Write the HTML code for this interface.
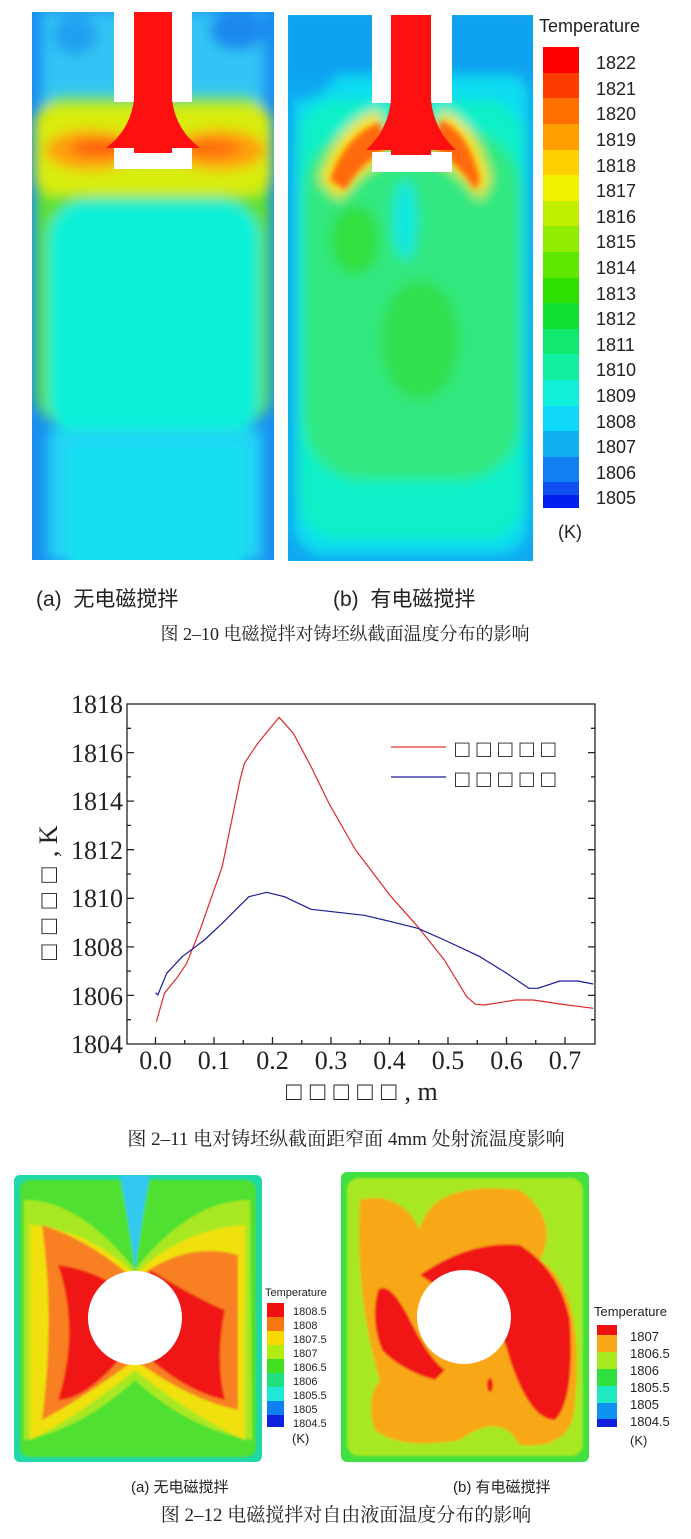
<!DOCTYPE html>
<html><head><meta charset="utf-8"><style>
html,body{margin:0;padding:0;background:#fff;}
body{width:691px;height:1539px;overflow:hidden;position:relative;}
svg{position:absolute;left:0;top:0;}
</style></head><body>
<svg width="691" height="1539" viewBox="0 0 691 1539" xmlns="http://www.w3.org/2000/svg">
<defs>
<filter id="b6" x="-20%" y="-20%" width="140%" height="140%"><feGaussianBlur stdDeviation="6"/></filter>
<filter id="b3" x="-20%" y="-20%" width="140%" height="140%"><feGaussianBlur stdDeviation="3"/></filter>
<filter id="b1"><feGaussianBlur stdDeviation="1"/></filter>
<clipPath id="ca"><rect x="32" y="12" width="242" height="548"/></clipPath>
<clipPath id="cb"><rect x="288" y="15" width="245" height="546"/></clipPath>
<clipPath id="cc"><rect x="14" y="1175" width="248" height="287" rx="6"/></clipPath>
<clipPath id="cd"><rect x="341" y="1172" width="248" height="290" rx="6"/></clipPath>
</defs>

<!-- Panel a top -->
<g clip-path="url(#ca)">
 <rect x="32" y="12" width="242" height="548" fill="#1a8ff0"/>
 <g filter="url(#b6)">
  <rect x="42" y="12" width="222" height="110" fill="#30c4f4"/>
  <ellipse cx="75" cy="35" rx="22" ry="20" fill="#20a0f0"/>
  <ellipse cx="238" cy="30" rx="28" ry="20" fill="#1a88ee"/>
  <rect x="36" y="95" width="234" height="330" rx="30" fill="#60e030"/>
  <rect x="34" y="105" width="238" height="90" rx="20" fill="#d8ec10"/>
  <ellipse cx="90" cy="150" rx="45" ry="20" fill="#ffa010"/>
  <ellipse cx="220" cy="150" rx="45" ry="20" fill="#ffa010"/>
  <ellipse cx="100" cy="148" rx="30" ry="9" fill="#ff6010"/>
  <ellipse cx="210" cy="148" rx="30" ry="9" fill="#ff6a10"/>
  <rect x="48" y="200" width="212" height="240" rx="40" fill="#10f0d8"/>
  <rect x="48" y="430" width="214" height="130" fill="#20d4f4"/>
  <rect x="68" y="445" width="176" height="130" fill="#18e0f0"/>
 </g>
 <rect x="114" y="12" width="78" height="90" fill="#fff"/>
 <rect x="114" y="148" width="78" height="21" fill="#fff"/>
 <path d="M134 12 H172 V100 Q176 130 200 148 H172 V153 H134 V148 H106 Q130 130 134 100 Z" fill="#ff1010"/>
</g>

<!-- Panel b top -->
<g clip-path="url(#cb)">
 <rect x="288" y="15" width="245" height="546" fill="#10a8f0"/>
 <g filter="url(#b6)">
  <rect x="294" y="70" width="234" height="485" rx="30" fill="#10dcf0"/>
  <rect x="298" y="100" width="226" height="440" rx="40" fill="#10f0c8"/>
  <rect x="304" y="130" width="216" height="350" rx="60" fill="#30e880"/>
  <ellipse cx="355" cy="240" rx="25" ry="35" fill="#30e040"/>
  <ellipse cx="420" cy="340" rx="40" ry="60" fill="#30e050"/>
  <ellipse cx="300" cy="60" rx="40" ry="40" fill="#10a8f0"/>
  <rect x="290" y="15" width="240" height="60" fill="#10a0f0"/>
  <ellipse cx="405" cy="220" rx="12" ry="40" fill="#10e8e0"/>
  <path d="M320 180 Q340 120 380 110 L385 160 Q360 170 340 200 Z" fill="#ffe000"/>
  <path d="M490 180 Q475 120 440 110 L435 160 Q460 170 480 200 Z" fill="#ffe000"/>
 </g>
 <g filter="url(#b3)">
  <path d="M330 180 Q345 135 380 122 L385 150 Q360 165 345 190 Z" fill="#ff6a10"/>
  <path d="M480 180 Q468 130 440 120 L435 150 Q460 165 475 190 Z" fill="#ff6a10"/>
 </g>
 <rect x="372" y="15" width="80" height="88" fill="#fff"/>
 <rect x="372" y="152" width="80" height="20" fill="#fff"/>
 <path d="M391 15 H431 V100 Q434 130 456 150 H431 V155 H391 V150 H366 Q388 130 391 100 Z" fill="#ff1010"/>
</g>

<!-- colorbar top -->
<g>
 <rect x="543" y="47" width="36" height="26" fill="#ff0000"/>
 <rect x="543" y="73" width="36" height="26" fill="#ff3c00"/>
 <rect x="543" y="98" width="36" height="26" fill="#ff7000"/>
 <rect x="543" y="124" width="36" height="26" fill="#ffa000"/>
 <rect x="543" y="150" width="36" height="26" fill="#ffd000"/>
 <rect x="543" y="175" width="36" height="26" fill="#f0f000"/>
 <rect x="543" y="201" width="36" height="26" fill="#c0f000"/>
 <rect x="543" y="226" width="36" height="26" fill="#90ec00"/>
 <rect x="543" y="252" width="36" height="26" fill="#60e800"/>
 <rect x="543" y="278" width="36" height="26" fill="#30e000"/>
 <rect x="543" y="303" width="36" height="26" fill="#10e030"/>
 <rect x="543" y="329" width="36" height="26" fill="#10e870"/>
 <rect x="543" y="354" width="36" height="26" fill="#10f0a0"/>
 <rect x="543" y="380" width="36" height="26" fill="#10f0d8"/>
 <rect x="543" y="406" width="36" height="26" fill="#10d8f8"/>
 <rect x="543" y="431" width="36" height="26" fill="#10b0f0"/>
 <rect x="543" y="457" width="36" height="26" fill="#1080f0"/>
 <rect x="543" y="482" width="36" height="26" fill="#1050f0"/>
 <rect x="543" y="495" width="36" height="13" fill="#0020f0"/>
</g>
<g font-family="Liberation Sans, sans-serif" font-size="18" fill="#222">
 <text x="539" y="32">Temperature</text>
 <text x="596" y="69">1822</text><text x="596" y="95">1821</text><text x="596" y="120">1820</text>
 <text x="596" y="146">1819</text><text x="596" y="172">1818</text><text x="596" y="197">1817</text>
 <text x="596" y="223">1816</text><text x="596" y="248">1815</text><text x="596" y="274">1814</text>
 <text x="596" y="300">1813</text><text x="596" y="325">1812</text><text x="596" y="351">1811</text>
 <text x="596" y="376">1810</text><text x="596" y="402">1809</text><text x="596" y="428">1808</text>
 <text x="596" y="453">1807</text><text x="596" y="479">1806</text><text x="596" y="504">1805</text>
 <text x="558" y="538">(K)</text>
</g>
<g font-family="Liberation Sans, 'Noto Sans CJK SC', sans-serif" font-size="21" fill="#222">
 <text x="36" y="606">(a)&#160; 无电磁搅拌</text>
 <text x="333" y="606">(b)&#160; 有电磁搅拌</text>
</g>
<text x="345" y="640" text-anchor="middle" font-family="Liberation Serif, 'Noto Serif CJK SC', serif" font-size="18" fill="#222">图 2–10 电磁搅拌对铸坯纵截面温度分布的影响</text>

<!-- Chart -->
<g stroke="#222" stroke-width="1.3" fill="none">
 <rect x="127" y="704" width="468" height="340"/>
 <path d="M155.5 1044v-7M214 1044v-7M272.5 1044v-7M331 1044v-7M389.5 1044v-7M448 1044v-7M506.5 1044v-7M565 1044v-7
 M184.75 1044v-4M243.25 1044v-4M301.75 1044v-4M360.25 1044v-4M418.75 1044v-4M477.25 1044v-4M535.75 1044v-4
 M127 995.4h7M127 946.9h7M127 898.3h7M127 849.7h7M127 801.1h7M127 752.6h7
 M127 1019.7h4M127 971.1h4M127 922.6h4M127 874h4M127 825.4h4M127 776.9h4M127 728.3h4
 M595 995.4h-7M595 946.9h-7M595 898.3h-7M595 849.7h-7M595 801.1h-7M595 752.6h-7
 M595 1019.7h-4M595 971.1h-4M595 922.6h-4M595 874h-4M595 825.4h-4M595 776.9h-4M595 728.3h-4"/>
</g>
<g font-family="Liberation Serif, serif" font-size="26" fill="#222" text-anchor="end">
 <text x="123" y="713">1818</text><text x="123" y="762">1816</text><text x="123" y="810">1814</text>
 <text x="123" y="859">1812</text><text x="123" y="907">1810</text><text x="123" y="956">1808</text>
 <text x="123" y="1005">1806</text><text x="123" y="1053">1804</text>
</g>
<g font-family="Liberation Serif, serif" font-size="26" fill="#222" text-anchor="middle">
 <text x="155.5" y="1069">0.0</text><text x="214" y="1069">0.1</text><text x="272.5" y="1069">0.2</text>
 <text x="331" y="1069">0.3</text><text x="389.5" y="1069">0.4</text><text x="448" y="1069">0.5</text>
 <text x="506.5" y="1069">0.6</text><text x="565" y="1069">0.7</text>
</g>
<text x="286" y="1100" font-family="Liberation Serif, serif" font-size="26" fill="#222" letter-spacing="8">□□□□□<tspan letter-spacing="0">, m</tspan></text>
<text transform="translate(57,960) rotate(-90)" font-family="Liberation Serif, serif" font-size="26" fill="#222" letter-spacing="10">□□□□<tspan letter-spacing="0">, K</tspan></text>
<line x1="391" y1="747" x2="446" y2="747" stroke="#e03030" stroke-width="1.3"/>
<line x1="391" y1="777" x2="446" y2="777" stroke="#1a1a9a" stroke-width="1.3"/>
<g font-family="Liberation Serif, serif" font-size="24" fill="#222" letter-spacing="7">
 <text x="455" y="757">□□□□□</text><text x="455" y="787">□□□□□</text>
</g>
<polyline fill="none" stroke="#e02828" stroke-width="1.2" stroke-linejoin="round" points="156.4,1021.7 164.4,993.3 177.8,976.7 186.7,963.3 200,930 222.2,866.7 240,780 244.4,763.3 257.8,743.3 279.1,717.3 293.3,733.3 311.1,766.7 328.9,803.3 355.6,850 391.1,896.7 417.8,926.7 444.4,960 466.7,996.7 475.6,1004.3 484.4,1005 515.6,1000 533.3,1000 560,1004 593.3,1008.3"/>
<polyline fill="none" stroke="#1a1a9a" stroke-width="1.2" stroke-linejoin="round" points="155.6,992.7 157.8,995 166.7,973.3 182.2,956.7 204.4,940 222.2,923.3 248.9,896.7 266.7,892.3 284.4,896.7 311.1,909.3 337.8,912.3 364.4,915.3 391.1,921.7 417.8,928.3 444.4,940 480,956.7 506.7,973.3 528.9,988.3 537.8,988.3 560,981 577.8,981 593.3,984"/>
<text x="346" y="1145" text-anchor="middle" font-family="Liberation Serif, 'Noto Serif CJK SC', serif" font-size="19" fill="#222">图 2–11 电对铸坯纵截面距窄面 4mm 处射流温度影响</text>

<!-- bottom panel a -->
<g clip-path="url(#cc)">
 <rect x="14" y="1175" width="248" height="287" fill="#20d8a8"/>
 <g filter="url(#b1)">
  <rect x="20" y="1180" width="236" height="277" rx="10" fill="#50e030"/>
  <path d="M24 1200 Q80 1200 135 1270 Q190 1200 250 1200 L252 1440 Q190 1430 135 1380 Q80 1430 24 1440 Z" fill="#a8e820"/>
  <path d="M30 1225 Q90 1230 135 1275 Q180 1230 245 1225 L245 1440 Q190 1415 135 1370 Q80 1415 30 1440 Z" fill="#f0e010"/>
  <path d="M42 1225 Q90 1240 135 1280 Q185 1240 238 1255 L238 1410 Q190 1400 135 1360 Q80 1400 42 1420 Q55 1320 42 1225 Z" fill="#f88020"/>
  <path d="M58 1265 Q100 1270 135 1300 L135 1340 Q90 1400 58 1400 Q80 1330 58 1265 Z" fill="#f01818"/>
  <path d="M150 1270 Q200 1300 225 1310 Q215 1360 225 1400 Q180 1390 135 1345 Z" fill="#f01818"/>
  <path d="M120 1175 L150 1175 Q140 1230 135 1270 Q130 1230 120 1175Z" fill="#30c8f0"/>
 </g>
 <circle cx="135" cy="1318" r="47" fill="#fff"/>
</g>
<g font-family="Liberation Sans, sans-serif" font-size="11" fill="#222">
 <text x="265" y="1296">Temperature</text>
 <rect x="267" y="1303" width="17" height="14" fill="#f01010"/>
 <rect x="267" y="1317" width="17" height="14" fill="#f87810"/>
 <rect x="267" y="1331" width="17" height="14" fill="#f8d800"/>
 <rect x="267" y="1345" width="17" height="14" fill="#b0ec10"/>
 <rect x="267" y="1359" width="17" height="14" fill="#40e020"/>
 <rect x="267" y="1373" width="17" height="14" fill="#20e080"/>
 <rect x="267" y="1387" width="17" height="14" fill="#20e8d8"/>
 <rect x="267" y="1401" width="17" height="14" fill="#1080f0"/>
 <rect x="267" y="1415" width="17" height="12" fill="#1020e0"/>
 <text x="293" y="1315">1808.5</text><text x="293" y="1329">1808</text><text x="293" y="1343">1807.5</text>
 <text x="293" y="1357">1807</text><text x="293" y="1371">1806.5</text><text x="293" y="1385">1806</text>
 <text x="293" y="1399">1805.5</text><text x="293" y="1413">1805</text><text x="293" y="1427">1804.5</text>
 <text x="292" y="1443" font-size="13">(K)</text>
</g>

<!-- bottom panel b -->
<g clip-path="url(#cd)">
 <rect x="341" y="1172" width="248" height="290" fill="#40e040"/>
 <g filter="url(#b1)">
  <rect x="347" y="1178" width="236" height="278" rx="12" fill="#a8e820"/>
  <path d="M360 1200 Q400 1190 420 1230 Q430 1180 520 1190 Q560 1220 540 1260 Q585 1290 575 1400 Q575 1450 520 1445 Q500 1410 460 1440 Q400 1450 375 1430 Q365 1400 380 1380 Q355 1300 360 1200 Z" fill="#f8a818"/>
  <path d="M420 1275 Q470 1240 520 1245 Q560 1270 570 1320 Q575 1400 555 1420 Q530 1420 510 1360 Q495 1300 450 1295 Z" fill="#f01818"/>
  <path d="M378 1290 Q390 1280 410 1320 Q430 1360 445 1370 L435 1380 Q400 1370 382 1350 Q370 1320 378 1290 Z" fill="#f01818"/>
  <ellipse cx="490" cy="1385" rx="3" ry="7" fill="#f01818"/>
 </g>
 <circle cx="464" cy="1317" r="47" fill="#fff"/>
</g>
<g font-family="Liberation Sans, sans-serif" font-size="13" fill="#222">
 <text x="594" y="1316">Temperature</text>
 <rect x="597" y="1325" width="20" height="10" fill="#f01010"/>
 <rect x="597" y="1335" width="20" height="17" fill="#f8a818"/>
 <rect x="597" y="1352" width="20" height="17" fill="#a8e820"/>
 <rect x="597" y="1369" width="20" height="17" fill="#30e040"/>
 <rect x="597" y="1386" width="20" height="17" fill="#20e8c0"/>
 <rect x="597" y="1403" width="20" height="16" fill="#1090f0"/>
 <rect x="597" y="1419" width="20" height="8" fill="#1020e0"/>
 <text x="630" y="1341">1807</text><text x="630" y="1358">1806.5</text><text x="630" y="1375">1806</text>
 <text x="630" y="1392">1805.5</text><text x="630" y="1409">1805</text><text x="630" y="1426">1804.5</text>
 <text x="630" y="1445">(K)</text>
</g>
<g font-family="Liberation Sans, 'Noto Sans CJK SC', sans-serif" font-size="15" fill="#222">
 <text x="131" y="1492">(a) 无电磁搅拌</text>
 <text x="453" y="1492">(b) 有电磁搅拌</text>
</g>
<text x="346" y="1521" text-anchor="middle" font-family="Liberation Serif, 'Noto Serif CJK SC', serif" font-size="19" fill="#222">图 2–12 电磁搅拌对自由液面温度分布的影响</text>
</svg>
</body></html>
